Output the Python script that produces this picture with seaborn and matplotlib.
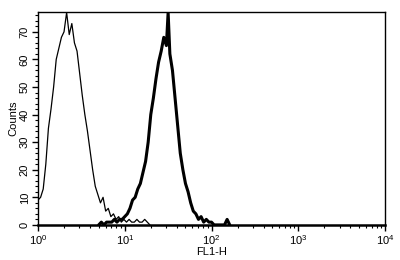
import numpy as np
import pandas as pd
import matplotlib
matplotlib.use("Agg")
import matplotlib.pyplot as plt
import seaborn as sns
from matplotlib.ticker import LogLocator, MultipleLocator, FixedLocator, FixedFormatter

# Control (thin) histogram: log10 channel positions and counts
ctrl_log = [0.00, 0.03, 0.06, 0.09, 0.12, 0.15, 0.18, 0.21, 0.24, 0.27, 0.30, 0.33,
            0.36, 0.39, 0.42, 0.45, 0.48, 0.51, 0.54, 0.57, 0.60, 0.63, 0.66, 0.69,
            0.72, 0.75, 0.78, 0.81, 0.84, 0.87, 0.90, 0.93, 0.96, 0.99, 1.02, 1.05,
            1.08, 1.11, 1.14, 1.17, 1.20, 1.23, 1.26, 1.29]
ctrl_cnt = [9, 10, 13, 22, 35, 42, 50, 60, 64, 68, 70, 77,
            69, 73, 66, 63, 55, 47, 40, 34, 27, 20, 14, 11,
            8, 10, 5, 6, 3, 4, 2, 3, 1, 2, 1, 2,
            1, 1, 2, 1, 1, 2, 1, 0]

# Stained (thick) histogram
stain_log = [0.70, 0.73, 0.76, 0.79, 0.82, 0.85, 0.88, 0.91, 0.94, 0.97, 1.00, 1.03,
             1.06, 1.09, 1.12, 1.15, 1.18, 1.21, 1.24, 1.27, 1.30, 1.33, 1.36, 1.39,
             1.42, 1.45, 1.48, 1.50, 1.52, 1.55, 1.58, 1.61, 1.64, 1.67, 1.70, 1.73,
             1.76, 1.79, 1.82, 1.85, 1.88, 1.91, 1.94, 1.97, 2.00, 2.03, 2.06, 2.09,
             2.12, 2.15, 2.18, 2.21]
stain_cnt = [0, 1, 0, 1, 1, 1, 2, 1, 2, 2, 3, 4,
             6, 9, 10, 13, 15, 19, 23, 30, 40, 46, 53, 59,
             63, 68, 65, 77, 62, 56, 46, 36, 26, 20, 15, 12,
             8, 5, 4, 2, 3, 1, 2, 1, 1, 0, 0, 0,
             0, 0, 2, 0]

x_ticks = [1, 10, 100, 1000, 10000]
x_labels = ["10$^0$", "10$^1$", "10$^2$", "10$^3$", "10$^4$"]
y_ticks = [0, 10, 20, 30, 40, 50, 60, 70]

sns.set_style("ticks")
plt.rcParams['font.family'] = ['Liberation Sans', 'DejaVu Sans']
plt.rcParams['mathtext.fontset'] = 'custom'
plt.rcParams['mathtext.rm'] = 'Liberation Sans'

df_c = pd.DataFrame({"x": [10 ** v for v in ctrl_log], "y": ctrl_cnt})
df_s = pd.DataFrame({"x": [10 ** v for v in stain_log], "y": stain_cnt})

fig = plt.figure(figsize=(4, 2.6), dpi=100)
ax = fig.add_axes([0.095, 0.135, 0.8675, 0.819])

sns.lineplot(data=df_c, x="x", y="y", ax=ax, color="black", linewidth=0.9,
             estimator=None, sort=False)
sns.lineplot(data=df_s, x="x", y="y", ax=ax, color="black", linewidth=2.2,
             estimator=None, sort=False)

ax.set_xscale("log")
ax.set_xlim(1, 10000)
ax.set_ylim(0, 77.2)
ax.xaxis.set_major_locator(FixedLocator(x_ticks))
ax.xaxis.set_major_formatter(FixedFormatter(x_labels))
ax.xaxis.set_minor_locator(LogLocator(base=10, subs=np.arange(2, 10)))
ax.xaxis.set_minor_formatter(plt.NullFormatter())
ax.yaxis.set_major_locator(FixedLocator(y_ticks))
ax.yaxis.set_minor_locator(MultipleLocator(2))

ax.tick_params(axis="both", which="major", length=4, width=1, labelsize=8,
               direction="out", pad=2, colors="black", labelcolor="black")
ax.tick_params(axis="both", which="minor", length=2, width=0.8, direction="out", colors="black")
for lab in ax.get_yticklabels():
    lab.set_rotation(90)
    lab.set_va("center")

for sp in ax.spines.values():
    sp.set_visible(True)
    sp.set_color("black")
    sp.set_linewidth(1.0)
ax.spines["bottom"].set_linewidth(1.8)

ax.set_xlabel("FL1-H", fontsize=8, labelpad=0, color="black")
ax.set_ylabel("Counts", fontsize=8, labelpad=1, color="black")

fig.savefig("out.png", dpi=100)
